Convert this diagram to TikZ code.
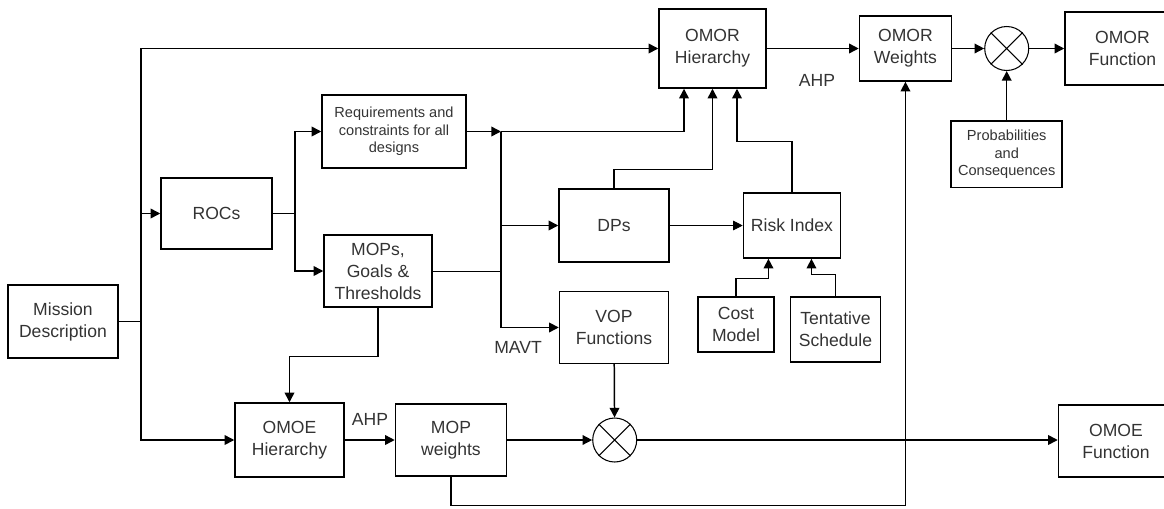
\documentclass[tikz,border=0pt]{standalone}
\usepackage{fontspec}
\setmainfont{Liberation Sans}
\usetikzlibrary{arrows.meta, positioning}

\begin{document}
\begin{tikzpicture}[
    x=0.02cm, y=-0.02cm,
    node distance=0.5cm,
    box/.style={rectangle, draw=black, line width=0.85pt, text=black!80, inner sep=1pt, align=center, font=\fontsize{10}{12.5}\selectfont},
    smallbox/.style={box, font=\fontsize{8.3}{10}\selectfont},
    mult/.style={circle, draw=black, line width=0.6pt, minimum size=0.88cm, inner sep=0pt},
    arrow/.style={-{Triangle[length=5.5pt, width=5.5pt]}, line width=0.85pt},
    thinarrow/.style={arrow, line width=0.4pt},
    lbl/.style={text=black!80, font=\fontsize{10}{12}\selectfont}
]
\useasboundingbox (0,0) rectangle (1164,508);

\node (mission) [box, minimum width=2.2cm, minimum height=1.46cm] at (63,321.5) {Mission\\Description};
\node (rocs) [box, minimum width=2.22cm, minimum height=1.42cm] at (216.5,213.5) {ROCs};
\node (req) [smallbox, minimum width=2.88cm, minimum height=1.46cm] at (394,131.5) {Requirements and\\constraints for all\\designs};
\node (mops) [box, minimum width=2.16cm, minimum height=1.44cm] at (378,271) {MOPs,\\Goals \&\\Thresholds};
\node (omorh) [box, minimum width=2.14cm, minimum height=1.58cm] at (712.5,48.5) {OMOR\\Hierarchy};
\node (omorw) [box, minimum width=1.84cm, minimum height=1.3cm, right=1.84cm of omorh] {OMOR\\Weights};
\node (xtop) [mult, right=0.64cm of omorw] {};
\node (omorf) [box, minimum width=2.3cm, minimum height=1.46cm, right=0.7cm of xtop] {OMOR\\Function};
\node (prob) [smallbox, minimum width=2.22cm, minimum height=1.34cm, below=0.98cm of xtop] {Probabilities\\and\\Consequences};
\node (dps) [box, minimum width=2.2cm, minimum height=1.46cm] at (614,225.5) {DPs};
\node (risk) [box, minimum width=1.94cm, minimum height=1.3cm, right=1.46cm of dps] {Risk Index};
\node (vop) [box, minimum width=2.18cm, minimum height=1.44cm, below=0.56cm of dps] {VOP\\Functions};
\node (cost) [box, minimum width=1.52cm, minimum height=1.1cm] at (736,324.5) {Cost\\Model};
\node (tent) [box, minimum width=1.8cm, minimum height=1.3cm, right=0.3cm of cost.north east, anchor=north west] {Tentative\\Schedule};
\node (omoeh) [box, minimum width=2.18cm, minimum height=1.48cm] at (289.5,440) {OMOE\\Hierarchy};
\node (mopw) [box, minimum width=2.22cm, minimum height=1.44cm, right=1cm of omoeh] {MOP\\weights};
\node (xbot) [mult, right=1.7cm of mopw] {};
\node (omoef) [box, minimum width=2.3cm, minimum height=1.44cm] at (1116,441) {OMOE\\Function};

% multiplier crosses
\foreach \m in {xtop, xbot} {
    \draw[line width=0.6pt] (\m.45) -- (\m.225) (\m.135) -- (\m.-45);
}

\node (ahpbot) [lbl] at (370,419) {AHP};
\node (ahptop) [lbl] at (817,80) {AHP};
\node (mavt) [lbl] at (518,347) {MAVT};

\coordinate (trunk) at (141,0);
\coordinate (split) at (295,0);
\coordinate (bus) at (501,0);

\draw[arrow] (mission.east) -- (mission.east -| trunk) |- (omorh.west);
\draw[arrow] (mission.east -| trunk) |- (omoeh.west);
\draw[arrow] (trunk |- rocs) -- (rocs.west);
\draw[arrow] (rocs.east) -- (split |- rocs) |- (req.west);
\draw[arrow] (split |- rocs) |- (mops.west);
\draw[arrow] (req.east) -- (bus |- req);
\draw[arrow] (bus |- req) -| ([xshift=-0.57cm]omorh.south);
\draw[arrow] (bus |- req) |- (vop.west);
\draw (mops.east) -- (bus |- mops);
\draw[arrow] (bus |- dps) -- (dps.west);
\draw[arrow] (dps.north) -- ++(0,-19) -| (omorh.south);
\draw[arrow] (risk.north) -- ++(0,-51) -| ([xshift=0.49cm]omorh.south);
\draw[thinarrow] (dps.east) -- (risk.west);
\draw[arrow] (cost.north) -- ++(0,-18) -| ([xshift=-0.47cm]risk.south);
\draw[arrow] (tent.north) -- ++(0,-22) -| ([xshift=0.39cm]risk.south);
\draw[arrow] (mops.south) -- ++(0,49) -| (omoeh.north);
\draw[arrow] (omoeh) -- (mopw);
\draw[arrow] (mopw) -- (xbot);
\draw[arrow] (vop) -- (xbot);
\draw[arrow] (xbot) -- (xbot -| omoef.west);
\draw[arrow] (mopw.south) -- ++(0,29) -| (omorw.south);
\draw[arrow] (omorh) -- (omorw);
\draw[arrow] (omorw) -- (xtop);
\draw[arrow] (xtop) -- (omorf);
\draw[arrow] (prob) -- (xtop);
\end{tikzpicture}
\end{document}
